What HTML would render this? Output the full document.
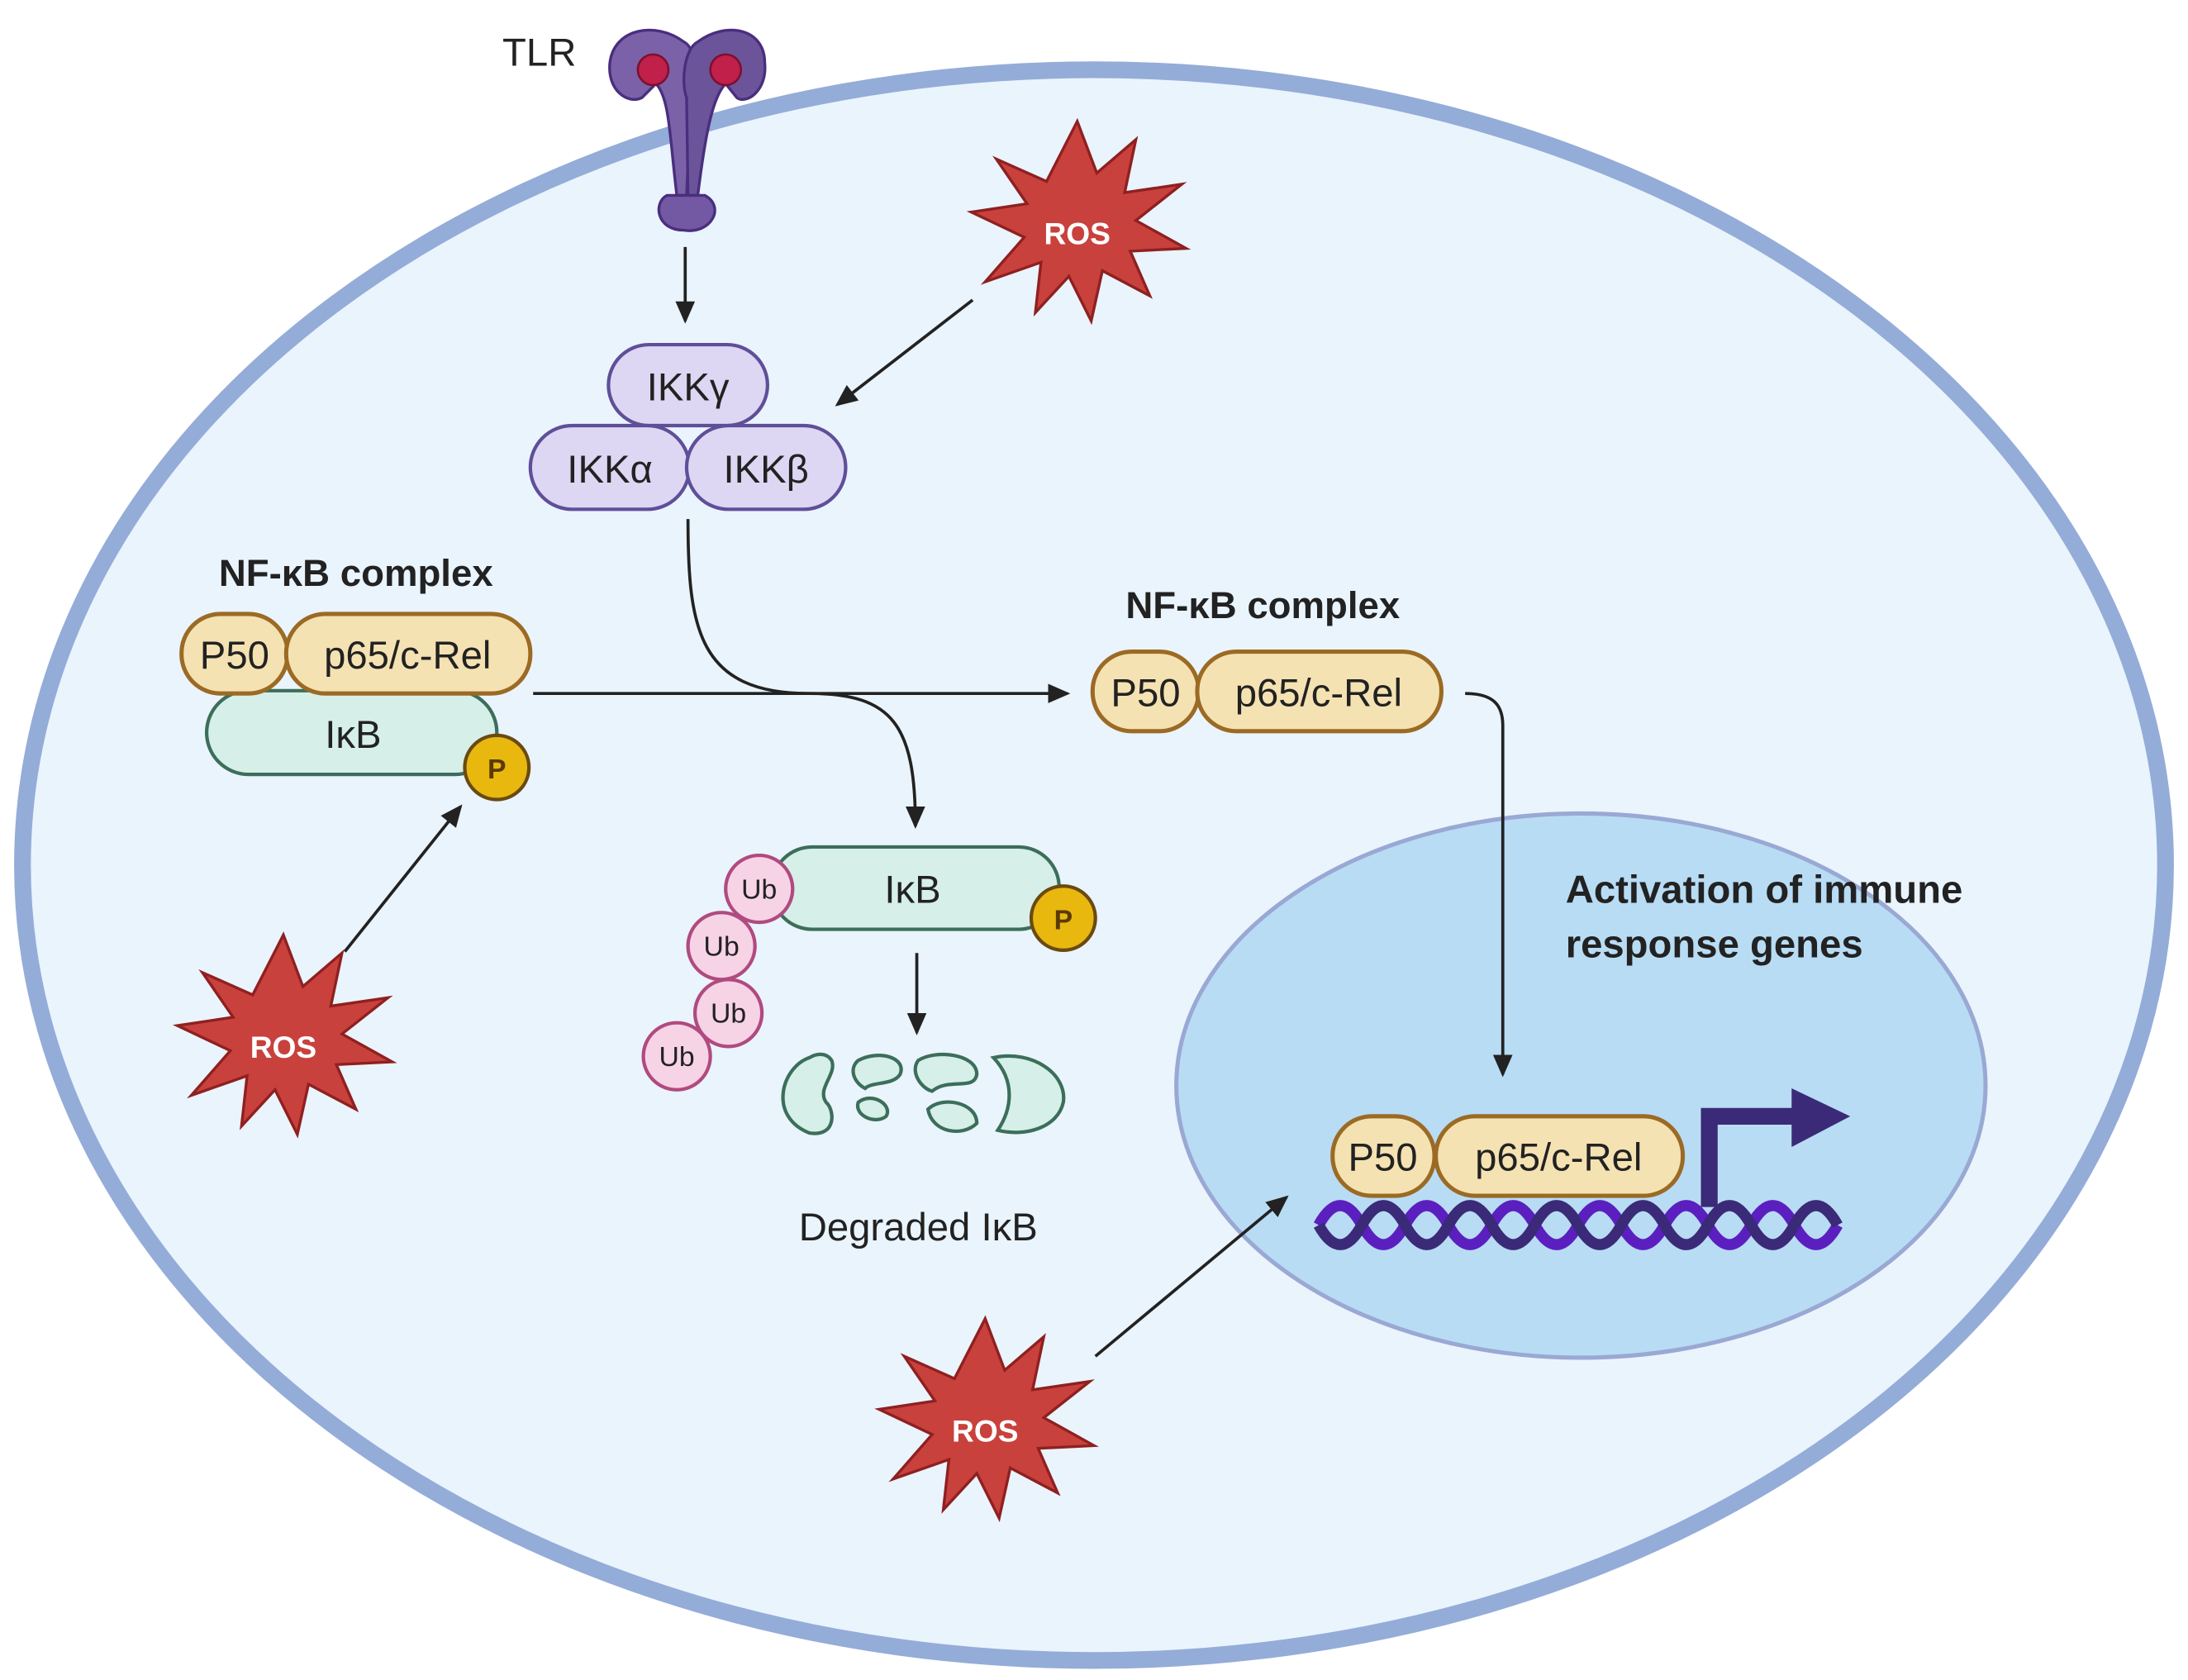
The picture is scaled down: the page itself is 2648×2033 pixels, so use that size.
<!DOCTYPE html>
<html><head><meta charset="utf-8"><style>
html,body{margin:0;padding:0;background:#fff;}
svg{display:block;}
text{font-family:"Liberation Sans",sans-serif;}
</style></head><body>
<svg width="2648" height="2033" viewBox="0 0 1568 1204" xmlns="http://www.w3.org/2000/svg">
<defs>
<marker id="ah2" markerWidth="16" markerHeight="16" refX="14" refY="8" orient="auto" markerUnits="userSpaceOnUse">
<path d="M0,1 L16,8 L0,15 z" fill="#222"/></marker>
<g id="ros">
<polygon points="0,-75 14,-38 42,-62 34,-24 75,-30 42,-4 78,16 38,18 52,50 18,32 10,68 -6,36 -30,62 -26,26 -66,40 -38,8 -76,-10 -36,-16 -58,-48 -22,-32" fill="#c8413d" stroke="#8f2020" stroke-width="2"/>
</g>
</defs>
<rect width="1568" height="1204" fill="#fff"/>
<ellipse cx="784" cy="620" rx="768" ry="570" fill="#eaf4fd" stroke="#94acd8" stroke-width="12"/>
<ellipse cx="1133" cy="778" rx="290" ry="195" fill="#b8dcf4" stroke="#9aa8d4" stroke-width="3"/>

<!-- TLR -->
<text x="360" y="47" font-size="28" fill="#222">TLR</text>
<g stroke="#4a2e7e" stroke-width="2">
<path d="M490,30 C470,15 440,20 437,45 C435,65 450,75 460,70 L470,60 C480,70 480,100 485,140 L492,140 L495,70 C500,60 500,35 490,30z" fill="#7b62a8"/>
<path d="M500,30 C520,15 548,20 548,45 C550,65 535,75 528,70 L520,60 C510,70 505,100 500,140 L493,140 L492,70 C488,60 490,35 500,30z" fill="#6c549a"/>
<path d="M478,140 C468,145 470,165 490,165 C510,168 520,148 505,140z" fill="#7358a3"/>
</g>
<circle cx="468" cy="50" r="11" fill="#c0204a" stroke="#7a1030" stroke-width="1.5"/>
<circle cx="520" cy="50" r="11" fill="#c0204a" stroke="#7a1030" stroke-width="1.5"/>

<g stroke="#222" stroke-width="2.2" fill="none">
<line x1="491" y1="177" x2="491" y2="230" marker-end="url(#ah2)"/>
<line x1="697" y1="215" x2="600" y2="290" marker-end="url(#ah2)"/>
<path d="M493,372 C493,450 500,497 580,497 C640,497 656,520 656,592" marker-end="url(#ah2)"/>
<line x1="382" y1="497" x2="765" y2="497" marker-end="url(#ah2)"/>
<path d="M1050,497 C1070,497 1077,505 1077,520 L1077,770" marker-end="url(#ah2)"/>
<line x1="247" y1="682" x2="330" y2="578" marker-end="url(#ah2)"/>
<line x1="657" y1="683" x2="657" y2="740" marker-end="url(#ah2)"/>
<line x1="785" y1="972" x2="922" y2="858" marker-end="url(#ah2)"/>
</g>

<use href="#ros" x="772" y="162"/>
<text x="772" y="175" font-size="22" font-weight="bold" fill="#fff" text-anchor="middle">ROS</text>
<use href="#ros" x="203" y="745"/>
<text x="203" y="758" font-size="22" font-weight="bold" fill="#fff" text-anchor="middle">ROS</text>
<use href="#ros" x="706" y="1020"/>
<text x="706" y="1033" font-size="22" font-weight="bold" fill="#fff" text-anchor="middle">ROS</text>

<g fill="#ddd7f3" stroke="#5f4f99" stroke-width="2.5">
<rect x="436" y="247" width="114" height="58" rx="29"/>
<rect x="380" y="305" width="114" height="60" rx="30"/>
<rect x="492" y="305" width="114" height="60" rx="30"/>
</g>
<g font-size="28" fill="#222" text-anchor="middle">
<text x="493" y="287">IKKγ</text>
<text x="437" y="346">IKKα</text>
<text x="549" y="346">IKKβ</text>
</g>

<text x="255" y="420" font-size="27" font-weight="bold" fill="#222" text-anchor="middle">NF-κB complex</text>
<rect x="148" y="495" width="208" height="60" rx="30" fill="#d6efe9" stroke="#3c6e5a" stroke-width="2.5"/>
<text x="253" y="536" font-size="28" fill="#222" text-anchor="middle">IκB</text>
<rect x="130" y="440" width="76" height="57" rx="28" fill="#f5e2b2" stroke="#9b6a24" stroke-width="3"/>
<rect x="205" y="440" width="175" height="57" rx="28" fill="#f5e2b2" stroke="#9b6a24" stroke-width="3"/>
<text x="168" y="479" font-size="28" fill="#222" text-anchor="middle">P50</text>
<text x="292" y="479" font-size="28" fill="#222" text-anchor="middle">p65/c-Rel</text>
<circle cx="356" cy="550" r="23" fill="#e8b80f" stroke="#6a4a10" stroke-width="2.5"/>
<text x="356" y="558" font-size="20" font-weight="bold" fill="#5a3a00" text-anchor="middle">P</text>

<text x="905" y="443" font-size="27" font-weight="bold" fill="#222" text-anchor="middle">NF-κB complex</text>
<rect x="783" y="467" width="76" height="57" rx="28" fill="#f5e2b2" stroke="#9b6a24" stroke-width="3"/>
<rect x="858" y="467" width="175" height="57" rx="28" fill="#f5e2b2" stroke="#9b6a24" stroke-width="3"/>
<text x="821" y="506" font-size="28" fill="#222" text-anchor="middle">P50</text>
<text x="945" y="506" font-size="28" fill="#222" text-anchor="middle">p65/c-Rel</text>

<rect x="553" y="607" width="206" height="59" rx="29" fill="#d6efe9" stroke="#3c6e5a" stroke-width="2.5"/>
<text x="654" y="647" font-size="28" fill="#222" text-anchor="middle">IκB</text>
<circle cx="762" cy="658" r="23" fill="#e8b80f" stroke="#6a4a10" stroke-width="2.5"/>
<text x="762" y="666" font-size="20" font-weight="bold" fill="#5a3a00" text-anchor="middle">P</text>
<g fill="#f7d3e6" stroke="#b04a7f" stroke-width="2.5">
<circle cx="544" cy="637" r="24"/>
<circle cx="517" cy="678" r="24"/>
<circle cx="522" cy="726" r="24"/>
<circle cx="485" cy="757" r="24"/>
</g>
<g font-size="20" fill="#222" text-anchor="middle">
<text x="544" y="644">Ub</text>
<text x="517" y="685">Ub</text>
<text x="522" y="733">Ub</text>
<text x="485" y="764">Ub</text>
</g>
<g fill="#d6efe9" stroke="#3c6e5a" stroke-width="2.5">
<path d="M580,758 C560,765 550,800 580,812 C600,815 598,795 592,790 C585,780 600,770 596,760 C592,754 585,755 580,758z"/>
<path d="M615,760 C630,752 650,758 645,770 C640,778 625,775 620,780 C612,776 608,766 615,760z"/>
<path d="M615,790 C625,782 640,792 635,800 C628,806 612,800 615,790z"/>
<path d="M658,760 C670,752 700,755 700,770 C698,782 680,772 668,782 C660,780 652,768 658,760z"/>
<path d="M665,795 C675,785 700,790 700,805 C690,815 668,812 665,795z"/>
<path d="M712,758 C740,752 765,770 762,790 C758,808 735,815 715,810 C725,795 728,775 712,758z"/>
</g>
<text x="658" y="889" font-size="28" fill="#222" text-anchor="middle">Degraded IκB</text>

<text x="1122" y="647" font-size="28" font-weight="bold" fill="#222">Activation of immune</text>
<text x="1122" y="686" font-size="28" font-weight="bold" fill="#222">response genes</text>
<path d="M1225,865 L1225,800 L1287,800" stroke="#3b2a78" stroke-width="12" fill="none"/>
<polygon points="1284,780 1326,800 1284,822" fill="#3b2a78"/>
<path d="M945,878 q15.5,-28 31,0 q15.5,28 31,0 q15.5,-28 31,0 q15.5,28 31,0 q15.5,-28 31,0 q15.5,28 31,0 q15.5,-28 31,0 q15.5,28 31,0 q15.5,-28 31,0 q15.5,28 31,0 q15.5,-28 31,0 q15.5,28 31,0" stroke="#5b1fbf" stroke-width="8" fill="none"/>
<path d="M945,878 q15.5,28 31,0 q15.5,-28 31,0 q15.5,28 31,0 q15.5,-28 31,0 q15.5,28 31,0 q15.5,-28 31,0 q15.5,28 31,0 q15.5,-28 31,0 q15.5,28 31,0 q15.5,-28 31,0 q15.5,28 31,0 q15.5,-28 31,0" stroke="#3b2a78" stroke-width="8" fill="none"/>
<rect x="955" y="800" width="73" height="57" rx="28" fill="#f5e2b2" stroke="#9b6a24" stroke-width="3"/>
<rect x="1029" y="800" width="177" height="57" rx="28" fill="#f5e2b2" stroke="#9b6a24" stroke-width="3"/>
<text x="991" y="839" font-size="28" fill="#222" text-anchor="middle">P50</text>
<text x="1117" y="839" font-size="28" fill="#222" text-anchor="middle">p65/c-Rel</text>
</svg>
</body></html>
